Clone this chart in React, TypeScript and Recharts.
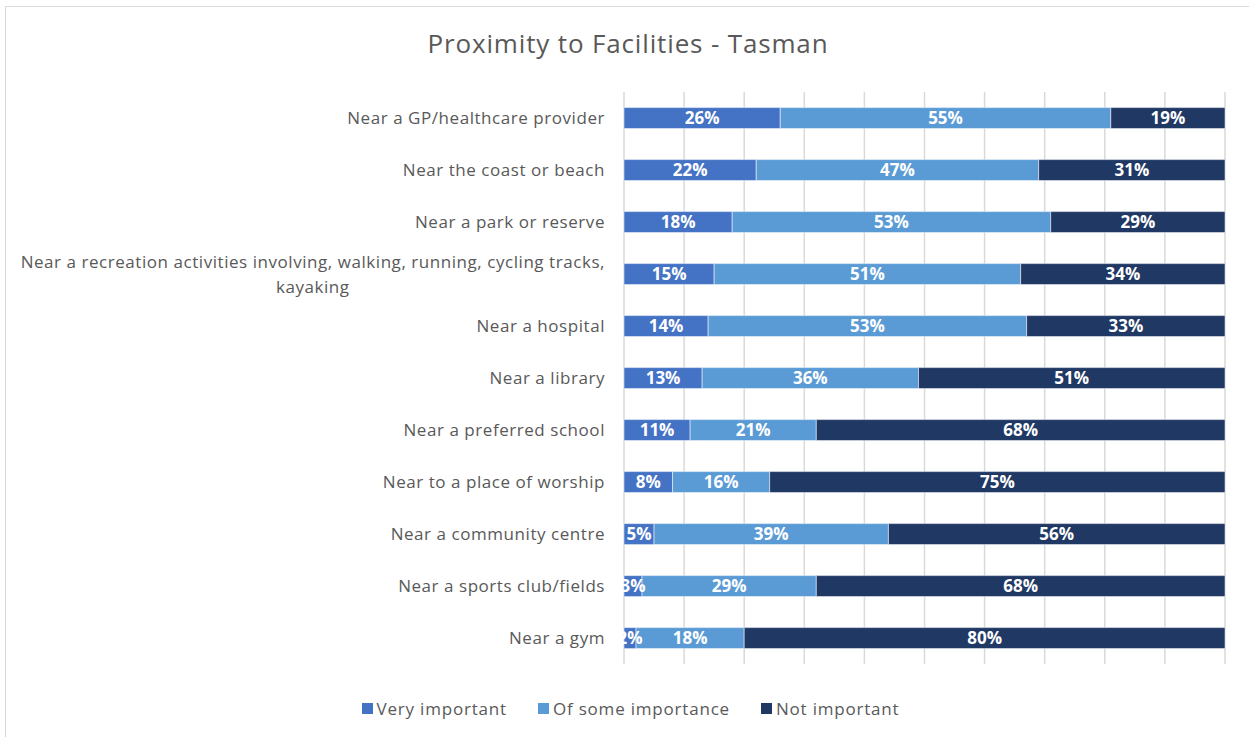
import React from 'react';
import { BarChart, Bar, XAxis, YAxis, CartesianGrid, LabelList } from 'recharts';

const categories = [
  'Near a GP/healthcare provider',
  'Near the coast or beach',
  'Near a park or reserve',
  'Near a recreation activities involving, walking, running, cycling tracks,|kayaking',
  'Near a hospital',
  'Near a library',
  'Near a preferred school',
  'Near to a place of worship',
  'Near a community centre',
  'Near a sports club/fields',
  'Near a gym',
];
const veryImportant = [26, 22, 18, 15, 14, 13, 11, 8, 5, 3, 2];
const someImportance = [55, 47, 53, 51, 53, 36, 21, 16, 39, 29, 18];
const notImportant = [19, 31, 29, 34, 33, 51, 68, 75, 56, 68, 80];
const gridTicks = [0, 0.1, 0.2, 0.3, 0.4, 0.5, 0.6, 0.7, 0.8, 0.9, 1];

const series = [
  { key: 'very', name: 'Very important', color: '#4472C4' },
  { key: 'some', name: 'Of some importance', color: '#5B9BD5' },
  { key: 'not', name: 'Not important', color: '#203864' },
];

const data = categories.map((name, i) => ({
  name,
  very: veryImportant[i],
  some: someImportance[i],
  not: notImportant[i],
}));

const FONT = '"Open Sans", Lato, sans-serif';
const GREY = '#595959';
const CAT_SIZE = 17;
const CAT_SPACING = 0.55;

const measure = (text: string, size: number, spacing: number) => {
  const c = document.createElement('canvas').getContext('2d');
  if (!c) return text.length * size * 0.55;
  c.font = `${size}px ${FONT}`;
  return c.measureText(text).width + spacing * text.length;
};

const CategoryTick = (props: any) => {
  const { x, y, payload } = props;
  const lines: string[] = String(payload.value).split('|');
  if (lines.length === 1) {
    return (
      <text
        x={x}
        y={y}
        dy={6}
        textAnchor="end"
        fill={GREY}
        fontSize={CAT_SIZE}
        fontFamily={FONT}
        letterSpacing={CAT_SPACING}
      >
        {lines[0]}
      </text>
    );
  }
  const w = measure(lines[0], CAT_SIZE, CAT_SPACING);
  return (
    <text
      x={x - w / 2}
      y={y}
      textAnchor="middle"
      fill={GREY}
      fontSize={CAT_SIZE}
      fontFamily={FONT}
      letterSpacing={CAT_SPACING}
    >
      {lines.map((l, i) => (
        <tspan key={i} x={x - w / 2} dy={i === 0 ? -6.5 : 25}>
          {l}
        </tspan>
      ))}
    </text>
  );
};

export default function App() {
  return (
    <div style={{ position: 'absolute', left: 0, top: 0, width: 1249, height: 737, overflow: 'hidden', background: '#fff' }}>
      <div
        style={{
          position: 'absolute',
          left: 5,
          top: 6,
          width: 1300,
          height: 800,
          border: '1px solid #d9d9d9',
        }}
      />
      <div
        style={{
          position: 'absolute',
          left: 0,
          top: 25,
          width: 1256,
          textAlign: 'center',
          fontFamily: FONT,
          fontSize: 26,
          letterSpacing: 0.85,
          color: GREY,
        }}
      >
        Proximity to Facilities - Tasman
      </div>
      <div style={{ position: 'absolute', left: 0, top: 0 }}>
        <BarChart
          width={1249}
          height={737}
          data={data}
          layout="vertical"
          stackOffset="expand"
          barCategoryGap="30%"
          margin={{ top: 92, right: 24, bottom: 73, left: 0 }}
        >
          <CartesianGrid horizontal={false} stroke="#d9d9d9" strokeWidth={1.5} />
          <XAxis type="number" domain={[0, 1]} ticks={gridTicks} hide />
          <YAxis
            type="category"
            dataKey="name"
            width={624}
            axisLine={false}
            tickLine={false}
            tickSize={0}
            tickMargin={19}
            tick={<CategoryTick />}
            interval={0}
          />
          {series.map((s) => (
            <Bar
              key={s.key}
              dataKey={s.key}
              name={s.name}
              stackId="a"
              fill={s.color}
              stroke="#ffffff"
              strokeOpacity={0.5}
              strokeWidth={1}
              isAnimationActive={false}
            >
              <LabelList
                dataKey={s.key}
                position="center"
                formatter={(v: any) => `${v}%`}
                fill="#ffffff"
                fontSize={17}
                fontWeight="bold"
                fontFamily={FONT}
              />
            </Bar>
          ))}
        </BarChart>
      </div>
      <div
        style={{
          position: 'absolute',
          left: 0,
          top: 697,
          width: 1261,
          display: 'flex',
          justifyContent: 'center',
          gap: 31,
          fontFamily: FONT,
          fontSize: 17,
          letterSpacing: 0.8,
          color: GREY,
        }}
      >
        {series.map((s) => (
          <div key={s.key} style={{ display: 'flex', alignItems: 'center' }}>
            <span style={{ display: 'inline-block', width: 11, height: 11, background: s.color, marginRight: 4 }} />
            <span>{s.name}</span>
          </div>
        ))}
      </div>
    </div>
  );
}
